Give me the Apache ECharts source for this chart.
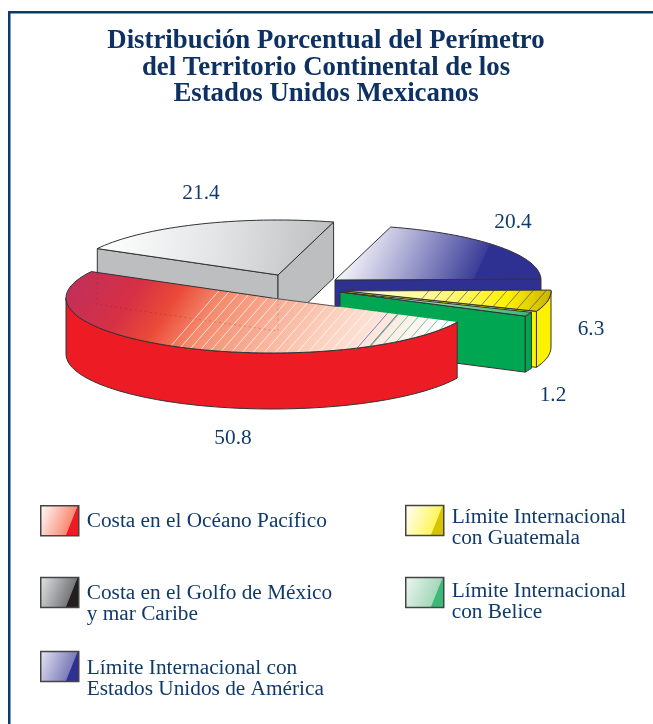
<!DOCTYPE html>
<html>
<head>
<meta charset="utf-8">
<style>
  html, body { margin: 0; padding: 0; background: #fff; }
  #main { width: 653px; height: 724px; }
</style>
<script src="https://cdn.jsdelivr.net/npm/echarts@6/dist/echarts.min.js"></script>
</head>
<body>
<div id="main"></div>
<script>
const categories = [
  "Costa en el Océano Pacífico",
  "Costa en el Golfo de México\ny mar Caribe",
  "Límite Internacional con\nEstados Unidos de América",
  "Límite Internacional\ncon Guatemala",
  "Límite Internacional\ncon Belice",
];
const values = [50.8, 21.4, 20.4, 6.3, 1.2];
const titleLines = [
  "Distribución Porcentual del Perímetro",
  "del Territorio Continental de los",
  "Estados Unidos Mexicanos",
];

// pie geometry (ellipse of the tilted disc)
const CX = 272, CY = 298, RX = 206, RY = 55, DEPTH = 56, START = 26;
const NAVY = "#0f3a6b";
const EDGE = "#333";
const SERIF = "'Liberation Serif'";

const total = values.reduce((a, b) => a + b, 0);
const explode = [[0, 0], [6, -23], [63, -18], [73, -7], [68, -6]];
const wallColors = ["#ed1c24", "#bcbec0", "#2e3192", "#fff200", "#00a651"];
const labelPos = [[233, 438], [201, 193], [513, 222], [591, 329], [553, 395]];
const zBySlice = [5, 4, 1, 2, 3];
// legend box position and the text drop under each swatch
const legendPos = [[35, 500], [35, 566], [35, 640], [400, 494], [400, 566]];
const legendDrop = [2, 22, 24, 15, 19];

const grad = (x, y, x2, y2, stops) => ({
  type: "linear", x, y, x2, y2, global: true,
  colorStops: stops.map((s) => ({ offset: s[0], color: s[1] })),
});
const topFills = [
  grad(75, 262, 420, 490, [[0, "#bf2f5c"], [0.16, "#d63045"], [0.25, "#ea4a38"], [0.34, "#f58a6c"], [0.58, "#fbcdb9"], [0.82, "#fff"], [1, "#fff"]]),
  grad(105, 225, 330, 262, [[0, "#fff"], [0.5, "#e3e4e6"], [1, "#bcbec0"]]),
  grad(345, 245, 465, 300, [[0, "#fff"], [0.45, "#aaaad4"], [0.99, "#3b3e98"], [1, "#2e3192"]]),
  grad(350, 280, 552, 300, [[0, "#fffde8"], [0.45, "#fff88a"], [0.78, "#fff200"], [1, "#c8b200"]]),
  grad(340, 290, 530, 315, [[0, "#dff2e7"], [1, "#3cb878"]]),
];
// diagonal hatch lines on the flat faces: [from x, to x, step, colour]
const hatches = [
  [[150, 338, 11, "#fff"], [338, 350, 11, "#2e3192"], [350, 470, 11, "#00a651"]],
  [], [],
  [[360, 540, 13, "#2e3192"]],
  [],
];
const legendColors = [
  ["#fff", "#f98a72", "#ed1c24"],
  ["#e6e7e8", "#77787b", "#231f20"],
  ["#e8e7f4", "#7c7cba", "#2e3192"],
  ["#fff", "#fff55e", "#d6c400"],
  ["#eef6f1", "#a5d8bb", "#3cb878"],
];

function rad(t) { return (t * Math.PI) / 180; }
function pt(cx, cy, t, dz) {
  return [cx + RX * Math.cos(rad(t)), cy + RY * Math.sin(rad(t)) + (dz || 0)];
}
function arc(cx, cy, t0, t1, dz) {
  const n = Math.max(2, Math.ceil(Math.abs(t1 - t0) / 2));
  const pts = [];
  for (let k = 0; k <= n; k++) pts.push(pt(cx, cy, t0 + ((t1 - t0) * k) / n, dz));
  return pts;
}
function sliceAngles(i) {
  const before = values.slice(0, i).reduce((a, b) => a + b, 0);
  return [START + (360 * before) / total, START + (360 * (before + values[i])) / total];
}
function poly(points, fill, stroke, z2) {
  return {
    type: "polygon",
    shape: { points },
    style: { fill, stroke: stroke || "none", lineWidth: 1, lineJoin: "round" },
    z2: z2 || 0,
  };
}
function hatchLines(spec) {
  const out = [];
  spec.forEach(([from, to, step, color]) => {
    for (let x = from; x < to; x += step) {
      out.push({
        type: "line",
        shape: { x1: x, y1: 370, x2: x + 100, y2: 255 },
        style: { stroke: color, lineWidth: 0.8, opacity: color === "#fff" ? 0.9 : 0.75 },
      });
    }
  });
  return out;
}

function renderSlice(i) {
  const cx = CX + explode[i][0], cy = CY + explode[i][1];
  const [t0, t1] = sliceAngles(i);
  const wall = wallColors[i];
  const children = [];

  // outer rim, only the part facing the viewer
  [0, 360].forEach((shift) => {
    const lo = Math.max(t0, shift), hi = Math.min(t1, shift + 180);
    if (hi > lo) {
      const top = arc(cx, cy, lo, hi);
      const bottom = arc(cx, cy, hi, lo, DEPTH);
      children.push(poly(top.concat(bottom), wall, EDGE));
    }
  });
  // straight cut faces
  [[t0, t0 - 90], [t1, t1 + 90]].forEach(([t, normal]) => {
    if (Math.sin(rad(normal)) > 0) {
      const rim = pt(cx, cy, t);
      children.push(poly([[cx, cy], rim, [rim[0], rim[1] + DEPTH], [cx, cy + DEPTH]], wall, EDGE));
    }
  });

  // flat top
  const topPts = [[cx, cy]].concat(arc(cx, cy, t0, t1));
  children.push(poly(topPts, topFills[i]));
  if (hatches[i].length) {
    children.push({
      type: "group",
      clipPath: { type: "polygon", shape: { points: topPts } },
      children: hatchLines(hatches[i]),
    });
  }
  // top outline: the red slice fades out along its right radius
  children.push({
    type: "polyline",
    shape: { points: i === 0 ? arc(cx, cy, t0, t1).concat([[cx, cy]]) : topPts.concat([topPts[0]]) },
    style: { fill: "none", stroke: EDGE, lineWidth: 1 },
  });
  if (i === 0) {
    const rimR = pt(cx, cy, t0);
    children.push({
      type: "line",
      shape: { x1: cx, y1: cy, x2: cx + (rimR[0] - cx) * 0.36, y2: cy + (rimR[1] - cy) * 0.36 },
      style: { stroke: "#555", lineWidth: 1 },
    });
    // the grey block shows faintly through the translucent red face
    const [g0] = sliceAngles(1);
    const gx = CX + explode[1][0], gy = CY + explode[1][1];
    const rim = pt(gx, gy, g0);
    children.push({
      type: "polyline",
      shape: { points: [[rim[0], rim[1] + 24], [rim[0], rim[1] + DEPTH], [gx, gy + DEPTH], [gx, gy + 24]] },
      style: { fill: "none", stroke: "#5a1020", lineWidth: 0.8, opacity: 0.3, lineDash: [2, 3] },
    });
  }

  children.push({
    type: "text",
    style: {
      x: labelPos[i][0], y: labelPos[i][1], text: values[i].toFixed(1),
      fill: NAVY, font: "21.3px " + SERIF, align: "center", verticalAlign: "middle",
    },
    z2: 10,
  });
  return { type: "group", children };
}

const chart = echarts.init(document.getElementById("main"));
chart.setOption({
  animation: false,
  backgroundColor: "#fff",
  title: {
    text: titleLines.join("\n"),
    left: 321,
    top: 23,
    textAlign: "center",
    textStyle: {
      fontFamily: SERIF,
      fontWeight: "bold",
      fontSize: 26.8,
      lineHeight: 26.5,
      color: "#0d3162",
    },
  },
  legend: categories.map((name, i) => ({
    left: legendPos[i][0],
    top: legendPos[i][1],
    selectedMode: false,
    itemWidth: 38,
    itemHeight: 30,
    itemGap: 8,
    icon: "rect",
    // a thin first line pushes the text down against its swatch
    formatter: (n) => ["{s| }"].concat(n.split("\n").map((l) => "{t|" + l + "}")).join("\n"),
    data: [{
      name,
      itemStyle: {
        color: {
          type: "linear", x: 0, y: 0, x2: 1, y2: 0.5,
          colorStops: [
            { offset: 0, color: legendColors[i][0] },
            { offset: 0.82, color: legendColors[i][1] },
            { offset: 0.84, color: legendColors[i][2] },
            { offset: 1, color: legendColors[i][2] },
          ],
        },
        borderColor: "#444",
        borderWidth: 1.5,
      },
    }],
    textStyle: {
      rich: {
        s: { fontSize: 1, lineHeight: legendDrop[i] },
        t: {
          fontFamily: SERIF,
          fontSize: 21.3,
          lineHeight: 21,
          color: NAVY,
          padding: [0, 0, 0, 3],
        },
      },
    },
  })),
  graphic: [
    { type: "rect", shape: { x: 8, y: 11, width: 2.5, height: 713 }, style: { fill: "#0d3b6e" }, silent: true },
    { type: "rect", shape: { x: 8, y: 11, width: 645, height: 2.5 }, style: { fill: "#0d3b6e" }, silent: true },
  ],
  series: categories.map((name, i) => ({
    type: "custom",
    name,
    coordinateSystem: "none",
    z: zBySlice[i],
    silent: true,
    data: [[values[i]]],
    renderItem: () => renderSlice(i),
  })),
});
</script>
</body>
</html>
